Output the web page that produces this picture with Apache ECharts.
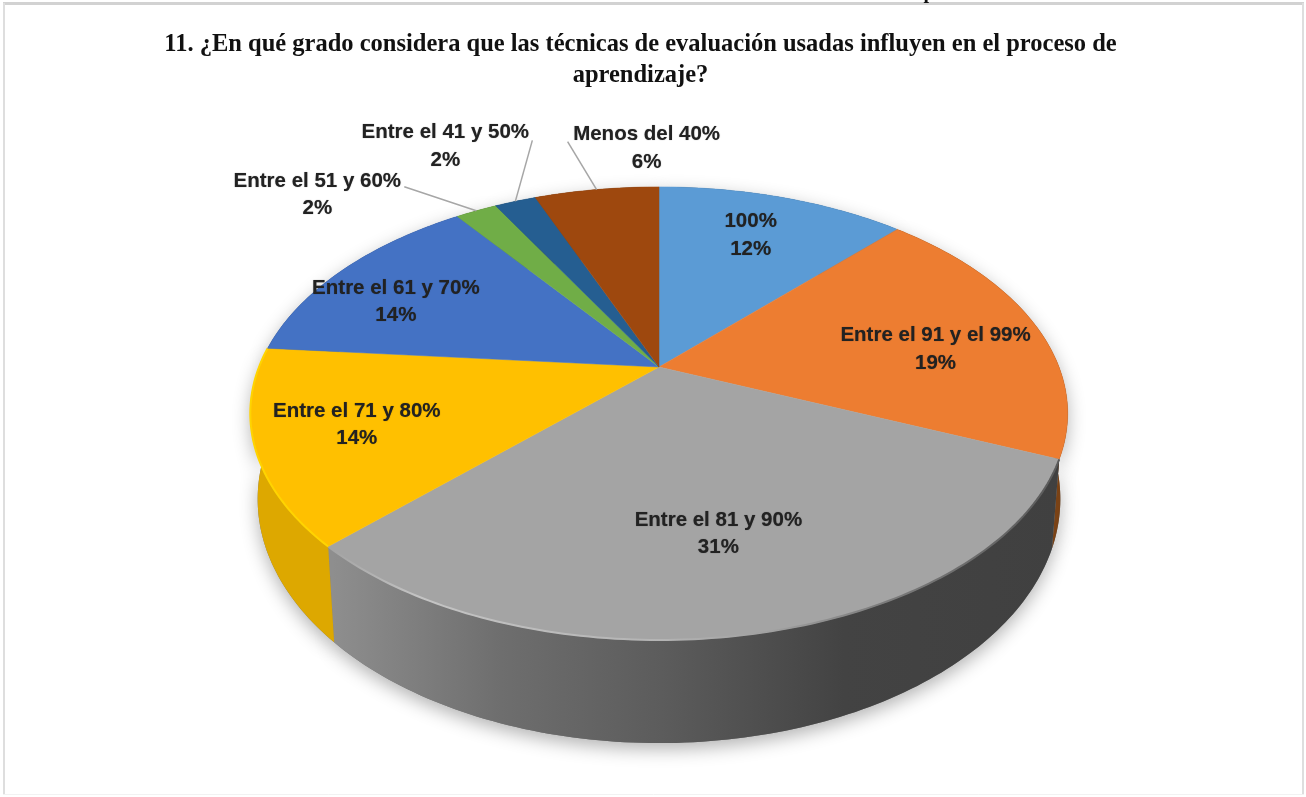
<!DOCTYPE html>
<html>
<head>
<meta charset="utf-8">
<style>html,body{margin:0;padding:0;background:#fff}#c{width:1306px;height:797px}</style>
<script src="https://cdn.jsdelivr.net/npm/echarts@6/dist/echarts.min.js"></script>
</head>
<body>
<div id="c"></div>
<script>
// Data (slice sizes estimated from the slice edges; labels show them rounded)
const categories = ['100%','Entre el 91 y el 99%','Entre el 81 y 90%','Entre el 71 y 80%','Entre el 61 y 70%','Entre el 51 y 60%','Entre el 41 y 50%','Menos del 40%'];
const shares = [12,19.4,31.1,13.9,13.6,2,2,6];
const titleLines = ['11. ¿En qué grado considera que las técnicas de evaluación usadas influyen en el proceso de','aprendizaje?'];

// Styling
const topColors = ['#5b9bd5','#ed7d31','#a4a4a4','#ffc000','#4472c4','#70ad47','#255e91','#9e480e'];
const wallColors = ['#3f6f99','#7a4215',null,'#dda800','#30518c','#4f7a32','#1a4367','#70330a'];
const rimColors = [null,null,'grey','#ffd400',null,null,null,null];
const labelOffset = [[-32,38],[-99,25],[-36,-100],[102,-22],[53,32],[-159,-16],[-70,-55],[50,-41]];
const leaderOffset = [null,null,null,null,null,[-72,-24],[17,-61],[-29,-48]];

// Perspective of the tilted disc
const CX = 659, CY = 367, RX = 400, RY = 217, K = 0.205, DEPTH = 82, FOOT = 0.982;
function rim(deg, lower) {
  const t = deg * Math.PI / 180, u = Math.sin(t), v = -Math.cos(t), d = 1 - K * v;
  return lower ? [CX + FOOT * RX * u / d, CY + RY * v / d + DEPTH / d]
               : [CX + RX * u / d, CY + RY * v / d];
}
function arc(a, b, lower) {
  const pts = [], n = Math.max(2, Math.ceil(Math.abs(b - a)));
  for (let i = 0; i <= n; i++) pts.push(rim(a + (b - a) * i / n, lower));
  return pts;
}
const total = shares.reduce((a, b) => a + b, 0);
let running = 0;
const rows = shares.map((s, i) => { const r = [i, s, running]; running += s; return r; });
const angles = (api) => {
  const a = api.value(2) / total * 360;
  return [a, a + api.value(1) / total * 360];
};
const greyWall = () => new echarts.graphic.LinearGradient(333, 0, 1063, 0, [
  {offset:0,color:'#8e8e8e'},{offset:0.23,color:'#6e6e6e'},{offset:0.45,color:'#5c5c5c'},
  {offset:0.70,color:'#434343'},{offset:1,color:'#404040'}], true);
const greyRim = () => new echarts.graphic.LinearGradient(333, 0, 1063, 0, [
  {offset:0,color:'#a4a4a4'},{offset:0.12,color:'#c4c4c4'},{offset:0.45,color:'#b4b4b4'},
  {offset:0.60,color:'#a0a0a0'},{offset:0.75,color:'#7c7c7c'},{offset:1,color:'#5a5a5a'}], true);

const option = {
  animation: false,
  backgroundColor: '#ffffff',
  title: {
    text: titleLines.join('\n'),
    left: 635.5, top: 24, textAlign: 'center',
    textStyle: {fontFamily:'"Liberation Serif"', fontWeight:'bold', fontSize:24.5, lineHeight:31, color:'#111'}
  },
  graphic: [
    {type:'line', silent:true, shape:{x1:3,y1:3.5,x2:1304,y2:3.5}, style:{stroke:'#d2d2d2',lineWidth:3}},
    {type:'line', silent:true, shape:{x1:4,y1:3,x2:4,y2:795}, style:{stroke:'#dedede',lineWidth:2}},
    {type:'line', silent:true, shape:{x1:1303,y1:3,x2:1303,y2:795}, style:{stroke:'#dedede',lineWidth:2}},
    {type:'line', silent:true, shape:{x1:3,y1:794.5,x2:1304,y2:794.5}, style:{stroke:'#f2f2f2',lineWidth:1}},
    {type:'text', silent:true, style:{x:929,y:3,text:'p',align:'center',verticalAlign:'bottom',
      fontFamily:'"Liberation Serif"',fontWeight:'bold',fontSize:20,fill:'#111'}}
  ],
  series: [
    { // soft shadow under the disc
      type:'custom', coordinateSystem:'none', silent:true, data:rows, z:1,
      renderItem(p, api) {
        const [a, b] = angles(api);
        return {type:'polygon', shape:{points:arc(a,b,false).concat(arc(a,b,true).reverse())},
          style:{fill:'#777', shadowBlur:18, shadowOffsetY:6, shadowColor:'rgba(0,0,0,0.3)'}};
      }
    },
    { // side walls
      type:'custom', coordinateSystem:'none', silent:true, data:rows, z:2,
      renderItem(p, api) {
        const [a, b] = angles(api), i = api.value(0);
        return {type:'polygon', shape:{points:arc(a,b,false).concat(arc(a,b,true).reverse())},
          style:{fill: wallColors[i] || greyWall()}};
      }
    },
    { // top faces
      type:'custom', coordinateSystem:'none', data:rows, z:3,
      renderItem(p, api) {
        const [a, b] = angles(api), i = api.value(0);
        const children = [{type:'polygon', shape:{points:[[CX,CY]].concat(arc(a,b,false))},
          style:{fill:topColors[i], stroke:topColors[i], lineWidth:0.5}}];
        if (rimColors[i]) children.push({type:'polyline', shape:{points:arc(a,b,false)},
          style:{fill:null, lineWidth:2, stroke: rimColors[i]==='grey' ? greyRim() : rimColors[i]}});
        return {type:'group', children};
      }
    },
    { // labels and leader lines
      type:'custom', coordinateSystem:'none', silent:true, data:rows, z:4,
      renderItem(p, api) {
        const [a, b] = angles(api), i = api.value(0), m = rim((a+b)/2, false);
        const children = [];
        if (leaderOffset[i]) children.push({type:'line',
          shape:{x1:m[0],y1:m[1],x2:m[0]+leaderOffset[i][0],y2:m[1]+leaderOffset[i][1]},
          style:{stroke:'#a6a6a6',lineWidth:1.5}});
        children.push({type:'text', style:{
          x:m[0]+labelOffset[i][0], y:m[1]+labelOffset[i][1],
          text: categories[i] + '\n' + Math.round(api.value(1)) + '%',
          align:'center', verticalAlign:'middle',
          fontFamily:'"Liberation Sans"', fontWeight:'bold', fontSize:20.5, lineHeight:27.5,
          fill:'#222', textShadowBlur:1, textShadowColor:'rgba(0,0,0,0.45)'}});
        return {type:'group', children};
      }
    }
  ]
};
echarts.init(document.getElementById('c'), null, {renderer:'canvas'}).setOption(option);
</script>
</body>
</html>
